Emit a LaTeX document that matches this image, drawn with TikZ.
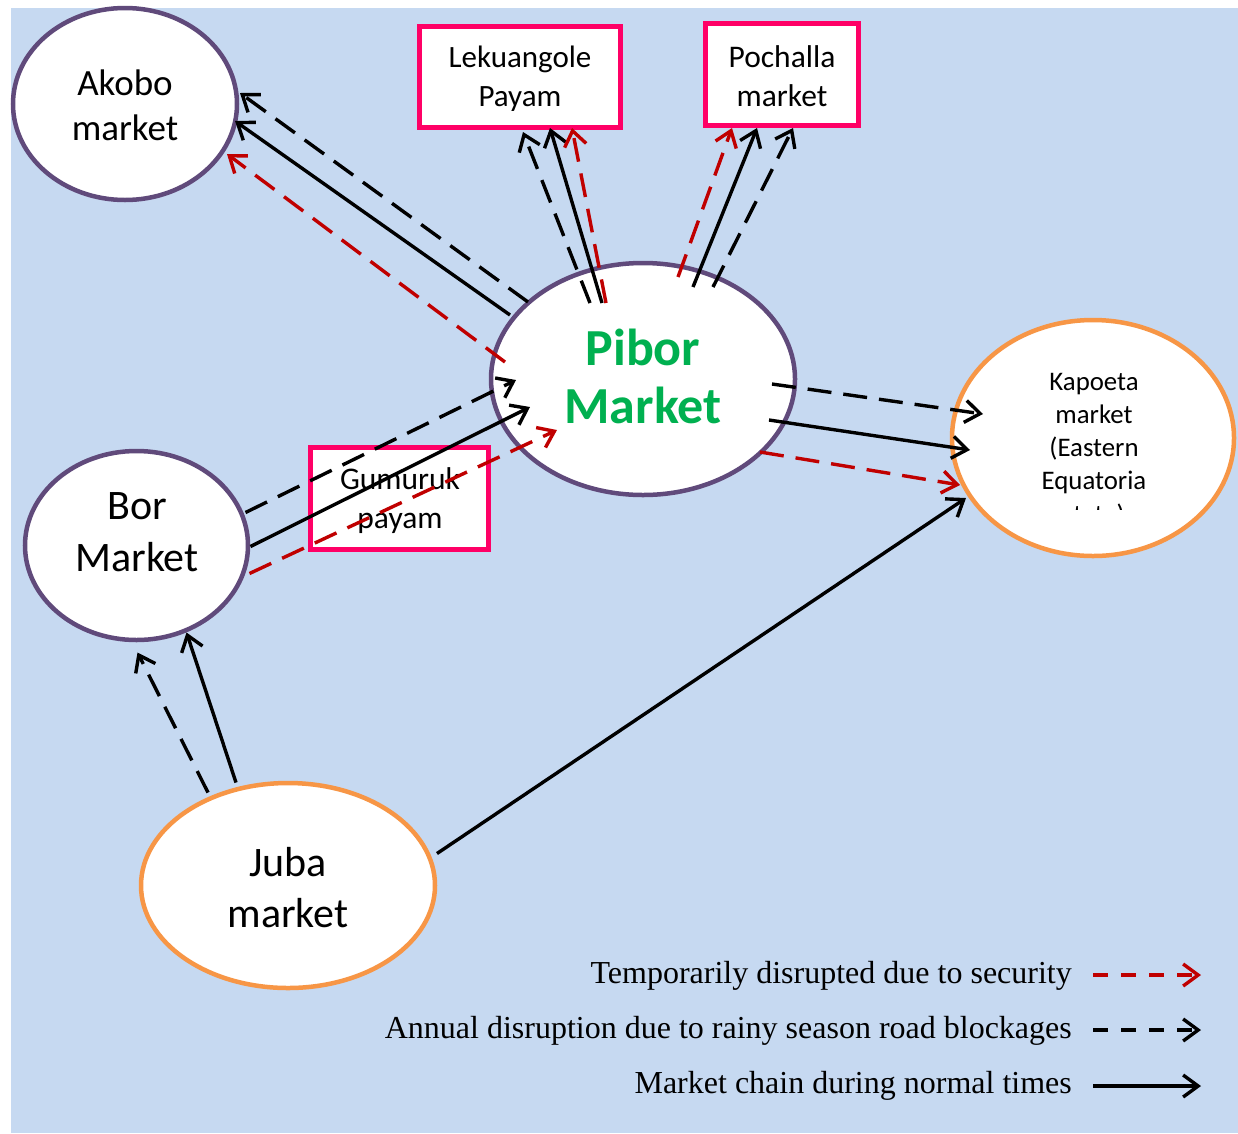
\documentclass[tikz,border=0pt]{standalone}
\usepackage{fontspec}
\setmainfont{Carlito}
\newfontfamily\legendfont{Liberation Serif}
\usetikzlibrary{shapes.geometric,arrows.meta,calc}
\definecolor{bgblue}{HTML}{C6D9F1}
\definecolor{purp}{HTML}{604A7B}
\definecolor{orng}{HTML}{F79646}
\definecolor{pinkr}{HTML}{FF0066}
\definecolor{darkred}{HTML}{C00000}
\definecolor{pgreen}{HTML}{00B050}
\tikzset{
  mkt/.style={ellipse, fill=white, line width=4.5pt, inner sep=0pt},
  pbox/.style={rectangle, fill=white, draw=pinkr, line width=5.5pt, inner sep=0pt, align=center},
  txt/.style={align=center, inner sep=0pt},
  arr/.style={line width=3.4pt, -{Straight Barb[length=15pt,width=22pt]}},
  normal/.style={arr, black},
  rainy/.style={arr, black, dash pattern=on 24pt off 12pt},
  secur/.style={arr, darkred, dash pattern=on 24pt off 12pt},
  lrainy/.style={arr, black, dash pattern=on 15pt off 13pt},
  lsecur/.style={arr, darkred, dash pattern=on 15pt off 13pt},
  legtext/.style={anchor=base east, inner sep=0pt, font=\legendfont\fontsize{32}{38}\selectfont}
}
\begin{document}
\begin{tikzpicture}[x=1pt,y=-1pt]
\useasboundingbox (0,0) rectangle (1238,1133);
\fill[bgblue] (11,8) rectangle (1238,1133);

% markets
\node[mkt, draw=purp, minimum width=224, minimum height=192] (akobo) at (125,104) {};
\node[txt, font=\fontsize{37}{45}\selectfont] (akobotext) at (125,105) {Akobo\\market};
\node[mkt, draw=purp, minimum width=304, minimum height=232] (pibor) at (643,379) {};
\node[txt, text=pgreen, font=\bfseries\fontsize{52}{58}\selectfont] (pibortext) at (643,376) {Pibor\\Market};
\node[mkt, draw=orng, minimum width=282, minimum height=236] (kapoeta) at (1093,438) {};
\node[txt, font=\fontsize{26.8}{33}\selectfont] (kapoetatext) at (1094,434) {Kapoeta\\market\\(Eastern\\Equatoria};
\begin{scope}
  \clip (1000,490) rectangle (1190,509);
  \node[anchor=base, inner sep=0pt, font=\fontsize{26.8}{33}\selectfont] (kapoetastate) at (1094,523) {state)};
\end{scope}
\node[mkt, draw=purp, minimum width=223, minimum height=189] (bor) at (136.5,545.5) {};
\node[txt, font=\fontsize{42}{52}\selectfont] (bortext) at (137,532) {Bor\\Market};
\node[mkt, draw=orng, minimum width=294, minimum height=205] (juba) at (288,885.5) {};
\node[txt, font=\fontsize{42}{51}\selectfont] (jubatext) at (288,888) {Juba\\market};

% payams / boxes
\node[pbox, minimum width=201, minimum height=101] (lek) at (520,77) {};
\node[txt, font=\fontsize{31}{39}\selectfont] (lektext) at (520,79) {Lekuangole\\Payam};
\node[pbox, minimum width=153, minimum height=102] (poc) at (782,74.5) {};
\node[txt, font=\fontsize{31.5}{39}\selectfont] (poctext) at (782,76) {Pochalla\\market};
\node[pbox, minimum width=178, minimum height=102] (gum) at (399.5,498.5) {};
\node[txt, font=\fontsize{31.5}{39}\selectfont] (gumtext) at (400,501) {Gumuruk\\payam};

% Pibor -> Akobo
\draw[rainy] ($(pibor)+(-115,-77)$) -- ($(akobo)+(115,-11)$);
\draw[normal] ($(pibor)+(-133,-64)$) -- ($(akobo)+(110,17)$);
\draw[secur] ($(pibor)+(-138,-17)$) -- ($(akobo)+(102,50)$);

% Pibor -> Lekuangole
\draw[rainy] ($(pibor)+(-53,-76)$) -- ($(lek)+(3,55)$);
\draw[normal] ($(pibor)+(-41,-76)$) -- ($(lek)+(30,51)$);
\draw[secur] ($(pibor)+(-37,-76)$) -- ($(lek)+(52,51)$);

% Pibor -> Pochalla
\draw[secur] ($(pibor)+(35,-102)$) -- ($(poc)+(-50,53.5)$);
\draw[normal] ($(pibor)+(50,-92)$) -- ($(poc)+(-25,53.5)$);
\draw[rainy] ($(pibor)+(70,-92)$) -- ($(poc)+(11,53.5)$);

% Pibor -> Kapoeta
\draw[rainy] ($(pibor)+(129,5)$) -- ($(kapoeta)+(-110,-24)$);
\draw[normal] ($(pibor)+(126,41)$) -- ($(kapoeta)+(-123,12)$);
\draw[secur] ($(pibor)+(117,73)$) -- ($(kapoeta)+(-133,47)$);

% Juba -> Kapoeta
\draw[normal] ($(juba)+(149,-32)$) -- ($(kapoeta)+(-127,60)$);

% Bor -> Pibor
\draw[rainy] ($(bor)+(109,-33)$) -- ($(pibor)+(-127,1)$);
\draw[normal] ($(bor)+(114,1)$) -- ($(pibor)+(-113,28)$);
\draw[secur] ($(bor)+(113,28)$) -- ($(pibor)+(-86,51)$);

% Juba -> Bor
\draw[rainy] ($(juba)+(-80,-93)$) -- ($(bor)+(1,107)$);
\draw[normal] ($(juba)+(-52,-103)$) -- ($(bor)+(50,87)$);

% legend
\node[legtext] (leg1) at (1072,983) {Temporarily disrupted due to security};
\node[legtext] (leg2) at (1072,1038) {Annual disruption due to rainy season road blockages};
\node[legtext] (leg3) at (1072,1093) {Market chain during normal times};
\coordinate (l1a) at (1093,975);  \coordinate (l1b) at (1201,975);
\coordinate (l2a) at (1093,1030); \coordinate (l2b) at (1201,1030);
\coordinate (l3a) at (1093,1086); \coordinate (l3b) at (1201,1086);
\draw[lsecur] (l1a) -- (l1b);
\draw[lrainy] (l2a) -- (l2b);
\draw[normal] (l3a) -- (l3b);
\end{tikzpicture}
\end{document}
